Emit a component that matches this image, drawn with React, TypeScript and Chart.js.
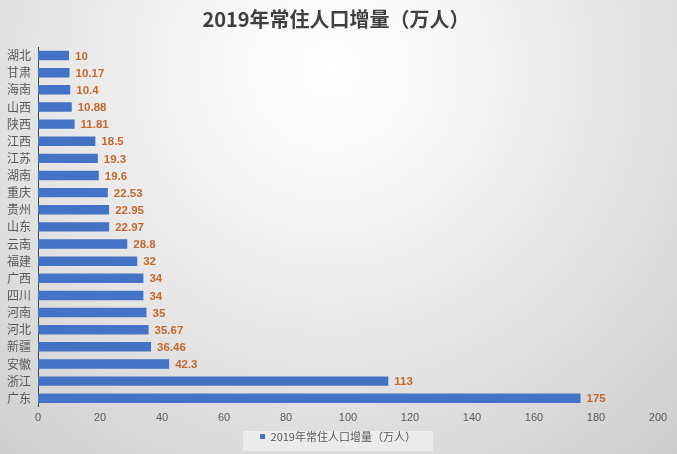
import React, { useEffect, useRef } from "react";
import { Chart, registerables } from "chart.js";

Chart.register(...registerables);

const categories = ["湖北", "甘肃", "海南", "山西", "陕西", "江西", "江苏", "湖南", "重庆", "贵州", "山东", "云南", "福建", "广西", "四川", "河南", "河北", "新疆", "安徽", "浙江", "广东"];
const values = [10, 10.17, 10.4, 10.88, 11.81, 18.5, 19.3, 19.6, 22.53, 22.95, 22.97, 28.8, 32, 34, 34, 35, 35.67, 36.46, 42.3, 113, 175];
const seriesName = "2019年常住人口增量（万人）";
const chartTitle = "2019年常住人口增量（万人）";

const shiftPlugin = {
  id: "shiftPlugin",
  afterLayout(chart: any) {
    const lg = chart.legend;
    if (lg) {
      lg.left += 9;
      lg.right += 9;
    }
    const t = chart.titleBlock;
    if (t) {
      t.left += 7;
      t.right += 7;
    }
  },
};

const bgPlugin = {
  id: "bgPlugin",
  beforeDraw(chart: any) {
    const { ctx, width, height } = chart;
    ctx.save();
    const g = ctx.createRadialGradient(330, 70, 0, 330, 70, 520);
    g.addColorStop(0, "#ffffff");
    g.addColorStop(0.25, "#f6f6f6");
    g.addColorStop(1, "#cdcdcd");
    ctx.fillStyle = g;
    ctx.fillRect(0, 0, width, height);
    const lg = chart.legend;
    if (lg) {
      ctx.fillStyle = "rgba(240,240,240,0.75)";
      const cy = lg.top + lg.height / 2;
      const cx = (lg.left + lg.right) / 2;
      ctx.fillRect(cx - 95, cy - 10, 190, 20);
    }
    ctx.restore();
  },
};

const labelPlugin = {
  id: "labelPlugin",
  afterDatasetsDraw(chart: any) {
    const { ctx } = chart;
    const meta = chart.getDatasetMeta(0);
    ctx.save();
    ctx.font = 'bold 11.5px "Liberation Sans", "Noto Sans CJK SC", sans-serif';
    ctx.fillStyle = "#C5692E";
    ctx.textBaseline = "middle";
    ctx.textAlign = "left";
    meta.data.forEach((bar: any, i: number) => {
      ctx.fillText(String(values[i]), bar.x + 6, bar.y + 1);
    });
    ctx.restore();
  },
};

export default function App() {
  const ref = useRef<HTMLCanvasElement>(null);
  useEffect(() => {
    const chart = new Chart(ref.current!, {
      type: "bar",
      data: {
        labels: categories,
        datasets: [
          {
            label: seriesName,
            data: values,
            backgroundColor: "#4472C4",
            borderWidth: 0,
            barPercentage: 0.55,
            categoryPercentage: 1,
          },
        ],
      },
      options: {
        indexAxis: "y",
        animation: false,
        responsive: false,
        layout: { padding: { left: 0, right: 19, top: 0, bottom: 2 } },
        scales: {
          x: {
            min: 0,
            max: 200,
            ticks: {
              stepSize: 20,
              color: "#595959",
              font: { size: 11, family: '"Liberation Sans", sans-serif' },
              padding: 5,
            },
            grid: { display: false, drawTicks: false },
            border: { display: false },
          },
          y: {
            ticks: {
              color: "#595959",
              font: { size: 12, family: '"Noto Sans CJK SC", sans-serif' },
              padding: 7,
              autoSkip: false,
            },
            grid: { display: false, drawTicks: false },
            border: { display: true, color: "#404040", width: 1 },
          },
        },
        plugins: {
          title: {
            display: true,
            text: chartTitle,
            color: "#404040",
            font: { size: 20, weight: "bold", family: '"Noto Sans CJK SC", sans-serif' },
            padding: { top: 7, bottom: 16 },
          },
          legend: {
            position: "bottom",
            labels: {
              color: "#595959",
              boxWidth: 5,
              boxHeight: 5,
              font: { size: 11, family: '"Noto Sans CJK SC", sans-serif' },
              padding: 1,
            },
          },
          tooltip: { enabled: false },
        },
      },
      plugins: [shiftPlugin, bgPlugin, labelPlugin],
    });
    return () => chart.destroy();
  }, []);
  return (
    <div style={{ position: "fixed", left: 0, top: 0, width: 677, height: 454 }}>
      <canvas ref={ref} width={677} height={454} style={{ display: "block" }} />
    </div>
  );
}
